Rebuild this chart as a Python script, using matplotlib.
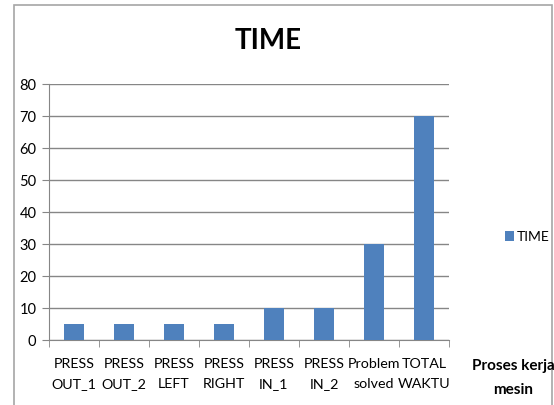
import matplotlib
matplotlib.use("Agg")
import matplotlib.pyplot as plt
from matplotlib.patches import Rectangle
import numpy as np

categories = ["PRESS\nOUT_1", "PRESS\nOUT_2", "PRESS\nLEFT", "PRESS\nRIGHT",
              "PRESS\nIN_1", "PRESS\nIN_2", "Problem\nsolved", "TOTAL\nWAKTU"]
time_values = [5, 5, 5, 5, 10, 10, 30, 70]
y_ticks = [0, 10, 20, 30, 40, 50, 60, 70, 80]

W, H = 554, 405
fig = plt.figure(figsize=(W / 100, H / 100), dpi=100)
fam = ["Lato", "DejaVu Sans"]

# outer chart frame
fig.patches.append(Rectangle((14 / W, -0.05), (552 - 14) / W, 1.05 - 5 / H,
                             transform=fig.transFigure, fill=False,
                             edgecolor="#a6a6a6", linewidth=1.2))

ax = fig.add_axes([49 / W, 1 - 340 / H, 400 / W, (340 - 84) / H])
x = np.arange(len(categories))
ax.bar(x, time_values, width=0.4, color="#4F81BD", zorder=3, label="TIME")
ax.set_xlim(-0.5, len(categories) - 0.5)
ax.set_ylim(0, 80)
ax.set_yticks(y_ticks)
ax.set_yticklabels([str(v) for v in y_ticks], fontsize=10.5, family=fam)
ax.set_xticks(x)
ax.set_xticklabels(categories, fontsize=10.3, family=fam, linespacing=1.75)
ax.set_xticks(np.arange(len(categories) + 1) - 0.5, minor=True)
ax.tick_params(axis="x", which="major", length=0, pad=13)
ax.tick_params(axis="x", which="minor", length=5, color="#868686")
ax.tick_params(axis="y", length=5, color="#868686", pad=4)
ax.grid(axis="y", color="#868686", linewidth=1, zorder=0)
for s in ["top", "right"]:
    ax.spines[s].set_visible(False)
for s in ["left", "bottom"]:
    ax.spines[s].set_color("#868686")

fig.text(268 / W, 1 - 41 / H, "TIME", ha="center", va="center",
         fontsize=20, fontweight="bold", family=fam)

ax.legend(loc="center left", bbox_to_anchor=(492 / W, 1 - 237 / H),
          bbox_transform=fig.transFigure, frameon=False, handlelength=0.7,
          handleheight=0.7, handletextpad=0.2, prop={"family": fam, "size": 10})

fig.text(513 / W, 1 - 366 / H, "Proses kerja", ha="center", va="center",
         fontsize=11, fontweight="bold", family=fam)
fig.text(513 / W, 1 - 390 / H, "mesin", ha="center", va="center",
         fontsize=11, fontweight="bold", family=fam)

fig.savefig("out.png", dpi=100, facecolor="white")
